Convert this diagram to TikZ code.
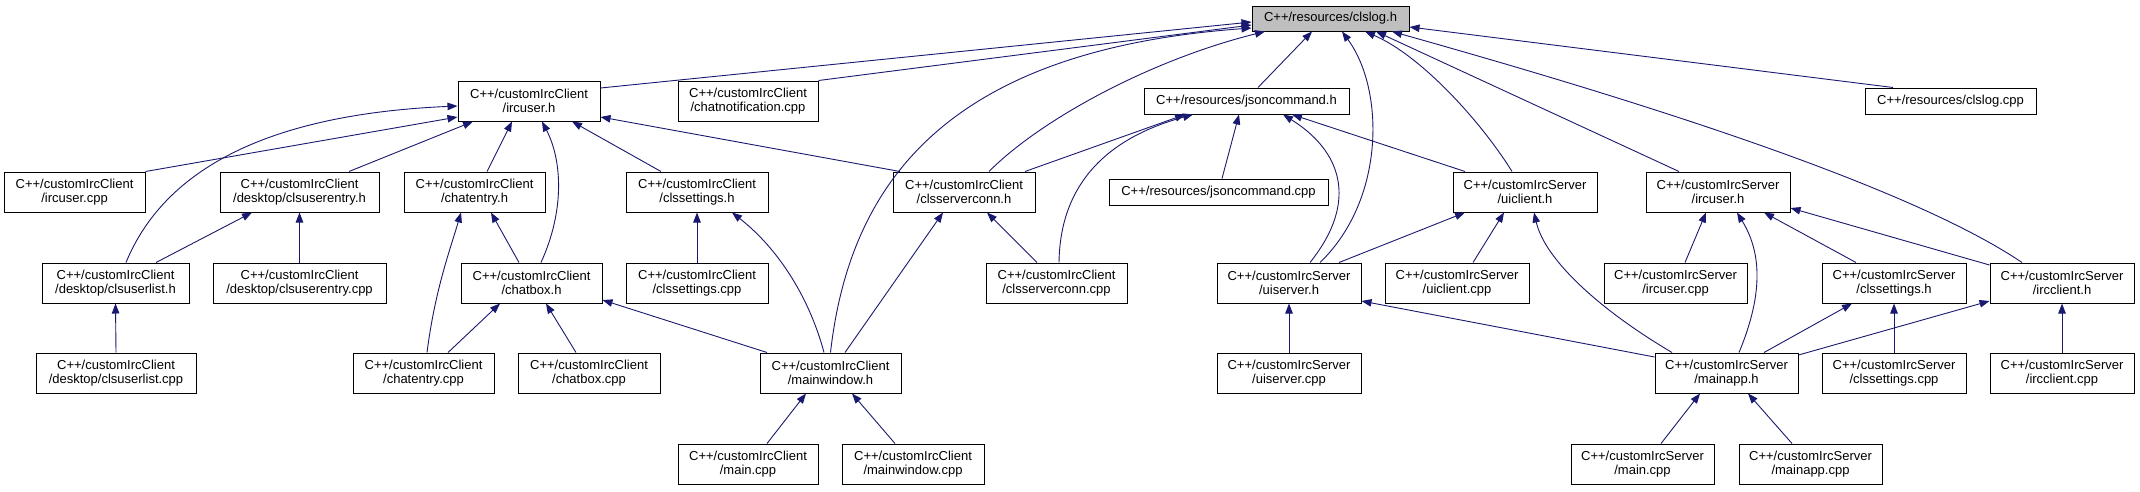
\documentclass[tikz,border=0pt]{standalone}
\usepackage{fontspec}
\setmainfont{Liberation Sans}
\usetikzlibrary{arrows.meta}
\definecolor{edgecol}{HTML}{191970}
\definecolor{rootfill}{HTML}{BFBFBF}
\tikzset{
  box/.style={draw=black, line width=1pt, fill=white, inner sep=0pt, align=center,
    minimum height=40pt, font=\fontsize{13}{14.5}\selectfont},
  onebox/.style={box, minimum height=26pt},
  dep/.style={draw=edgecol, line width=0.9pt, {Triangle[length=10pt,width=7.5pt]}-}
}
\begin{document}
\begin{tikzpicture}[x=1pt,y=-1pt]
\fill[white] (0,0) rectangle (2140,491);
\path[use as bounding box] (0,0) rectangle (2140,491);

% ---- nodes ----
\node[onebox, fill=rootfill, minimum width=157pt, minimum height=25pt] (clslogh) at (1330.5,18.5) {C++/resources/clslog.h};
% row 1
\node[box, minimum width=142pt] (ircuserC) at (529,101) {C++/customIrcClient\\/ircuser.h};
\node[box, minimum width=140pt] (chatnotif) at (748,101) {C++/customIrcClient\\/chatnotification.cpp};
\node[onebox, minimum width=205pt] (jsoncmdh) at (1246.5,101) {C++/resources/jsoncommand.h};
\node[onebox, minimum width=171pt] (clslogcpp) at (1950.5,101) {C++/resources/clslog.cpp};
% row 2
\node[box, minimum width=141pt] (ircuserCcpp) at (74.5,192) {C++/customIrcClient\\/ircuser.cpp};
\node[box, minimum width=159pt] (clsuserentryh) at (299.5,192) {C++/customIrcClient\\/desktop/clsuserentry.h};
\node[box, minimum width=141pt] (chatentryh) at (474.5,192) {C++/customIrcClient\\/chatentry.h};
\node[box, minimum width=142pt] (clssettingsCh) at (697,192) {C++/customIrcClient\\/clssettings.h};
\node[box, minimum width=142pt] (clsserverconnh) at (964,192) {C++/customIrcClient\\/clsserverconn.h};
\node[onebox, minimum width=219pt] (jsoncmdcpp) at (1218.5,192) {C++/resources/jsoncommand.cpp};
\node[box, minimum width=144pt] (uiclienth) at (1525,192) {C++/customIrcServer\\/uiclient.h};
\node[box, minimum width=144pt] (ircuserSh) at (1718,192) {C++/customIrcServer\\/ircuser.h};
% row 3
\node[box, minimum width=147pt] (clsuserlisth) at (115.5,283) {C++/customIrcClient\\/desktop/clsuserlist.h};
\node[box, minimum width=173pt] (clsuserentrycpp) at (299.5,283) {C++/customIrcClient\\/desktop/clsuserentry.cpp};
\node[box, minimum width=141pt] (chatboxh) at (531.5,283) {C++/customIrcClient\\/chatbox.h};
\node[box, minimum width=142pt] (clssettingsCcpp) at (697,283) {C++/customIrcClient\\/clssettings.cpp};
\node[box, minimum width=141pt] (clsserverconncpp) at (1056.5,283) {C++/customIrcClient\\/clsserverconn.cpp};
\node[box, minimum width=144pt] (uiserverh) at (1289,283) {C++/customIrcServer\\/uiserver.h};
\node[box, minimum width=144pt] (uiclientcpp) at (1457,283) {C++/customIrcServer\\/uiclient.cpp};
\node[box, minimum width=143pt] (ircuserScpp) at (1675.5,283) {C++/customIrcServer\\/ircuser.cpp};
\node[box, minimum width=144pt] (clssettingsSh) at (1894,283) {C++/customIrcServer\\/clssettings.h};
\node[box, minimum width=144pt] (ircclienth) at (2062,283) {C++/customIrcServer\\/ircclient.h};
% row 4
\node[box, minimum width=160pt] (clsuserlistcpp) at (116,373) {C++/customIrcClient\\/desktop/clsuserlist.cpp};
\node[box, minimum width=141pt] (chatentrycpp) at (423.5,373) {C++/customIrcClient\\/chatentry.cpp};
\node[box, minimum width=142pt] (chatboxcpp) at (589,373) {C++/customIrcClient\\/chatbox.cpp};
\node[box, minimum width=141pt] (mainwindowh) at (830.5,373) {C++/customIrcClient\\/mainwindow.h};
\node[box, minimum width=144pt] (uiservercpp) at (1289,373) {C++/customIrcServer\\/uiserver.cpp};
\node[box, minimum width=143pt] (mainapph) at (1726.5,373) {C++/customIrcServer\\/mainapp.h};
\node[box, minimum width=144pt] (clssettingsScpp) at (1894,373) {C++/customIrcServer\\/clssettings.cpp};
\node[box, minimum width=144pt] (ircclientcpp) at (2062,373) {C++/customIrcServer\\/ircclient.cpp};
% row 5
\node[box, minimum width=140pt] (mainCcpp) at (748,464) {C++/customIrcClient\\/main.cpp};
\node[box, minimum width=142pt] (mainwindowcpp) at (913,464) {C++/customIrcClient\\/mainwindow.cpp};
\node[box, minimum width=143pt] (mainScpp) at (1642.5,464) {C++/customIrcServer\\/main.cpp};
\node[box, minimum width=143pt] (mainappcpp) at (1810.5,464) {C++/customIrcServer\\/mainapp.cpp};

% ---- edges into clslog.h ----
\draw[dep] ([yshift=-3.5]clslogh.west) -- ([yshift=13]ircuserC.east);
\draw[dep] ([yshift=-6.5]clslogh.west) -- (chatnotif.north east);
\draw[dep] ([yshift=-9.5]clslogh.west) .. controls (950,50) and (850,180) .. (mainwindowh.north);
\draw[dep] ([xshift=-65.5]clslogh.south) .. controls (1150,60) and (1040,120) .. ([xshift=25]clsserverconnh.north);
\draw[dep] ([xshift=-18.5]clslogh.south) -- ([xshift=11.5]jsoncmdh.north);
\draw[dep] ([xshift=11.5]clslogh.south) .. controls (1385,90) and (1385,200) .. ([xshift=31]uiserverh.north);
\draw[dep] ([xshift=34.5]clslogh.south) .. controls (1420,55) and (1480,120) .. ([xshift=-13]uiclienth.north);
\draw[dep] ([xshift=45.5]clslogh.south) -- ([xshift=-39]ircuserSh.north);
\draw[dep] ([xshift=61.5]clslogh.south) .. controls (1600,90) and (1900,180) .. ([xshift=-40]ircclienth.north);
\draw[dep] ([yshift=-8.5]clslogh.east) -- ([xshift=-57.5]clslogcpp.north);

% ---- jsoncommand.h ----
\draw[dep] ([xshift=-61.5]jsoncmdh.south) -- ([xshift=61]clsserverconnh.north);
\draw[dep] ([xshift=-53.5]jsoncmdh.south) .. controls (1100,140) and (1060,190) .. ([xshift=2.5]clsserverconncpp.north);
\draw[dep] ([xshift=-7.5]jsoncmdh.south) -- ([xshift=3.5]jsoncmdcpp.north);
\draw[dep] ([xshift=36.5]jsoncmdh.south) .. controls (1340,150) and (1360,200) .. ([xshift=21]uiserverh.north);
\draw[dep] ([xshift=45.5]jsoncmdh.south) -- ([xshift=-60]uiclienth.north);

% ---- client ircuser.h ----
\draw[dep] ([yshift=-5]ircuserC.west) .. controls (250,115) and (160,180) .. ([xshift=10.5]clsuserlisth.north);
\draw[dep] ([yshift=-16]ircuserC.west) -- (ircuserCcpp.north east);
\draw[dep] ([xshift=-56]ircuserC.south) -- ([xshift=49.5]clsuserentryh.north);
\draw[dep] ([xshift=-17]ircuserC.south) -- ([xshift=12.5]chatentryh.north);
\draw[dep] ([xshift=13]ircuserC.south) .. controls (562,160) and (565,210) .. ([xshift=9.5]chatboxh.north);
\draw[dep] ([xshift=43]ircuserC.south) -- ([xshift=-36]clssettingsCh.north);
\draw[dep] ([yshift=-16]ircuserC.east) -- ([xshift=-64]clsserverconnh.north);

% ---- client side ----
\draw[dep] ([xshift=-47.5]clsuserentryh.south) -- ([xshift=40.5]clsuserlisth.north);
\draw[dep] (clsuserentryh.south) -- (clsuserentrycpp.north);
\draw[dep] (clsuserlisth.south) -- (clsuserlistcpp.north);
\draw[dep] ([xshift=-13.5]chatentryh.south) .. controls (450,250) and (435,290) .. ([xshift=3.5]chatentrycpp.north);
\draw[dep] ([xshift=16.5]chatentryh.south) -- ([xshift=-12.5]chatboxh.north);
\draw[dep] ([xshift=-31.5]chatboxh.south) -- ([xshift=24.5]chatentrycpp.north);
\draw[dep] ([xshift=14.5]chatboxh.south) -- ([xshift=-13]chatboxcpp.north);
\draw[dep] ([yshift=-17]chatboxh.east) -- ([xshift=-63.5]mainwindowh.north);
\draw[dep] (clssettingsCh.south) -- (clssettingsCcpp.north);
\draw[dep] ([xshift=35]clssettingsCh.south) .. controls (780,250) and (810,300) .. ([xshift=-6.5]mainwindowh.north);
\draw[dep] ([xshift=-21]clsserverconnh.south) -- ([xshift=14.5]mainwindowh.north);
\draw[dep] ([xshift=23]clsserverconnh.south) -- ([xshift=-19.5]clsserverconncpp.north);
\draw[dep] ([xshift=-24.5]mainwindowh.south) -- ([xshift=19]mainCcpp.north);
\draw[dep] ([xshift=21.5]mainwindowh.south) -- ([xshift=-18]mainwindowcpp.north);

% ---- server side ----
\draw[dep] ([xshift=-60]uiclienth.south) -- ([xshift=50]uiserverh.north);
\draw[dep] ([xshift=-21]uiclienth.south) -- ([xshift=16]uiclientcpp.north);
\draw[dep] ([xshift=9]uiclienth.south) .. controls (1545,260) and (1600,310) .. ([xshift=-54.5]mainapph.north);
\draw[dep] (uiserverh.south) -- (uiservercpp.north);
\draw[dep] ([yshift=-18]uiserverh.east) -- ([yshift=16]mainapph.west);
\draw[dep] ([xshift=-12]ircuserSh.south) -- ([xshift=9.5]ircuserScpp.north);
\draw[dep] ([xshift=19]ircuserSh.south) .. controls (1760,250) and (1765,290) .. ([xshift=12.5]mainapph.north);
\draw[dep] ([xshift=46]ircuserSh.south) -- ([xshift=-38]clssettingsSh.north);
\draw[dep] ([yshift=-16]ircuserSh.east) -- ([yshift=18]ircclienth.west);
\draw[dep] ([xshift=-42]clssettingsSh.south) -- ([xshift=37.5]mainapph.north);
\draw[dep] (clssettingsSh.south) -- (clssettingsScpp.north);
\draw[dep] ([yshift=-18]ircclienth.west) -- ([yshift=18]mainapph.east);
\draw[dep] (ircclienth.south) -- (ircclientcpp.north);
\draw[dep] ([xshift=-26.5]mainapph.south) -- ([xshift=18.5]mainScpp.north);
\draw[dep] ([xshift=21.5]mainapph.south) -- ([xshift=-18.5]mainappcpp.north);
\end{tikzpicture}
\end{document}
